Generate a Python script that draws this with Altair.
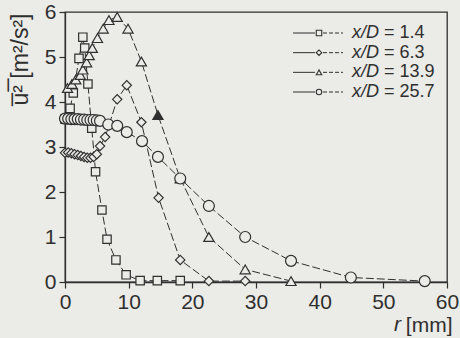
import altair as alt
import pandas as pd

# ---------------- data ----------------
series_labels = ["1.4", "6.3", "13.9", "25.7"]
shapes = ["square", "diamond", "triangle-up", "circle"]
marker_sizes = [70, 120, 75, 70]

# x/D = 1.4 (two traces)
sq_x = [0, 0.5, 1.0, 1.5, 2.0, 2.5, 3.0, 3.5, 4.0,
        0.8, 1.3, 2.2, 2.8, 3.1, 3.6, 4.2, 4.8, 5.8, 6.6, 8.0, 9.6, 11.8, 14.5, 18.1]
sq_y = [3.62, 3.62, 3.61, 3.61, 3.60, 3.60, 3.60, 3.59, 3.58,
        3.86, 4.20, 4.97, 5.44, 5.20, 4.40, 3.42, 2.45, 1.60, 0.95, 0.49, 0.16, 0.03, 0.03, 0.03]
sq_seg = [0] * 9 + [1] * 15

# x/D = 6.3
di_x = [0, 0.5, 1, 1.5, 2, 2.5, 3, 3.5, 4, 4.5, 5, 5.5, 6.3, 6.9, 8.2, 9.7, 12.0, 14.7, 18.1, 22.6, 28.3]
di_y = [2.87, 2.88, 2.86, 2.84, 2.82, 2.80, 2.78, 2.76, 2.76, 2.78, 2.84, 3.02, 3.22, 3.48, 4.06, 4.37,
        3.55, 1.87, 0.49, 0.02, 0.02]

# x/D = 13.9
tr_x = [0.4, 1.1, 1.7, 2.4, 2.8, 3.4, 3.8, 4.3, 5.1, 6.0, 6.9, 8.2, 9.9, 12.0, 14.6, 18.1, 22.6, 28.3, 35.5]
tr_y = [4.31, 4.40, 4.50, 4.60, 4.72, 4.88, 5.04, 5.20, 5.42, 5.63, 5.82, 5.89, 5.63, 4.90, 3.71, 2.30,
        1.00, 0.28, 0.02]
tr_filled = [0] * 14 + [1] + [0] * 4

# x/D = 25.7
ci_x = [0, 0.5, 1, 1.5, 2, 2.5, 3, 3.5, 4, 4.5, 5, 5.5, 6.8, 8.2, 9.7, 12.1, 14.6, 18.1, 22.6, 28.3,
        35.5, 44.9, 56.5]
ci_y = [3.63, 3.63, 3.62, 3.62, 3.62, 3.61, 3.61, 3.60, 3.60, 3.60, 3.59, 3.58, 3.50, 3.47, 3.33, 3.13,
        2.78, 2.30, 1.69, 1.00, 0.47, 0.10, 0.02]

x_ticks = [0, 5, 10, 15, 20, 25, 30, 35, 40, 45, 50, 55, 60]
y_ticks = [0, 0.5, 1, 1.5, 2, 2.5, 3, 3.5, 4, 4.5, 5, 5.5, 6]
x_title_var = ["r"]
x_title_unit = "[mm]"
y_title = "u\u0305\u00b2\u0305 [m\u00b2/s\u00b2]"

# ---------------- build table ----------------
rows = []
def add(label, xs, ys, segs=None, filled=None):
    for i, (x, y) in enumerate(zip(xs, ys)):
        rows.append({
            "series": label,
            "grp": f"{label}-{segs[i] if segs else 0}",
            "idx": i,
            "r": x,
            "u2": y,
            "filled": filled[i] if filled else 0,
        })

add("1.4", sq_x, sq_y, sq_seg)
add("6.3", di_x, di_y)
add("13.9", tr_x, tr_y, filled=tr_filled)
add("25.7", ci_x, ci_y)
df = pd.DataFrame(rows)

leg = pd.DataFrame({"series": series_labels, "txt": ["= " + s for s in series_labels]})

BG = "#ebebe7"
INK = "#2f2f2f"
FONT = "Liberation Sans"

xs = alt.Scale(domain=[0, 60], nice=False, zero=False)
ys = alt.Scale(domain=[0, 6], nice=False)
shape_scale = alt.Scale(domain=series_labels, range=shapes)
size_scale = alt.Scale(domain=series_labels, range=marker_sizes)

x_enc = alt.X("r:Q", scale=xs, axis=alt.Axis(
    values=x_ticks, title=x_title_unit, grid=False, labelFlush=False,
    labelExpr="datum.value % 10 === 0 ? datum.label : ''",
    tickSize={"condition": {"test": "datum.value % 10 === 0", "value": 6}, "value": 3},
    labelFontSize=21, labelPadding=3, labelColor=INK, labelFont=FONT,
    tickColor=INK, domainColor=INK, domainWidth=1.3, tickWidth=1.2,
    titleFont=FONT, titleFontSize=21, titleFontWeight="normal", titleColor=INK,
    titleAnchor="end", titleAlign="right", titleBaseline="middle",
    titleX=387, titleY=43,
))
y_enc = alt.Y("u2:Q", scale=ys, axis=alt.Axis(
    values=y_ticks, title=y_title, grid=False, labelFlush=False,
    labelExpr="datum.value % 1 === 0 ? datum.label : ''",
    tickSize={"condition": {"test": "datum.value % 1 === 0", "value": 6}, "value": 3},
    labelFontSize=21, labelPadding=3, labelColor=INK, labelFont=FONT,
    tickColor=INK, domainColor=INK, domainWidth=1.3, tickWidth=1.2,
    titleFont=FONT, titleFontSize=23, titleFontWeight="normal", titleColor=INK,
    titleAngle=270, titleAlign="right", titleBaseline="middle",
    titleX=-45, titleY=1,
))

base = alt.Chart(df)
lines = base.mark_line(color=INK, strokeWidth=1, strokeDash=[8, 3]).encode(
    x=x_enc, y=y_enc, detail="grp:N", order="idx:Q"
)
points = base.mark_point(filled=True, stroke=INK, strokeWidth=1.2, opacity=1).encode(
    x=alt.X("r:Q", scale=xs),
    y=alt.Y("u2:Q", scale=ys),
    shape=alt.Shape("series:N", scale=shape_scale, legend=None),
    size=alt.Size("series:N", scale=size_scale, legend=None),
    fill=alt.condition(alt.datum.filled == 1, alt.value(INK), alt.value(BG)),
)
data_layer = alt.layer(lines, points)

ly = alt.Y("series:N", scale=alt.Scale(type="point", domain=series_labels, range=[21, 80], padding=0),
           axis=None)
lb = alt.Chart(leg)
leg_solid = lb.mark_rule(color=INK, strokeWidth=1).encode(y=ly, x=alt.value(228), x2=alt.value(250))
leg_dash = lb.mark_rule(color=INK, strokeWidth=1, strokeDash=[4, 2]).encode(
    y=ly, x=alt.value(258), x2=alt.value(278))
leg_pt = lb.mark_point(filled=True, size=30, stroke=INK, strokeWidth=1.1, fill=BG, opacity=1).encode(
    y=ly, x=alt.value(254), shape=alt.Shape("series:N", scale=shape_scale, legend=None))
leg_xd = lb.mark_text(text="x/D", align="left", baseline="middle", fontSize=18, fontStyle="italic",
                      font=FONT, color=INK).encode(y=ly, x=alt.value(287))
leg_val = lb.mark_text(align="left", baseline="middle", fontSize=18, font=FONT, color=INK).encode(
    y=ly, x=alt.value(319), text="txt:N")

rt = alt.Chart(pd.DataFrame({"t": x_title_var})).mark_text(
    align="right", baseline="middle", fontSize=21, fontStyle="italic", font=FONT, color=INK
).encode(text="t:N", x=alt.value(336), y=alt.value(313))

legend_layer = alt.layer(leg_solid, leg_dash, leg_pt, leg_xd, leg_val)

chart = alt.layer(data_layer, legend_layer, rt).resolve_scale(y="independent").properties(
    width=382, height=270,
    autosize=alt.AutoSizeParams(type="none"),
    padding={"left": 65, "top": 12, "right": 13, "bottom": 56},
    background=BG,
).configure_view(stroke=INK, strokeWidth=1.3)

chart.save("out.html", embed_options={"renderer": "svg", "actions": False})
